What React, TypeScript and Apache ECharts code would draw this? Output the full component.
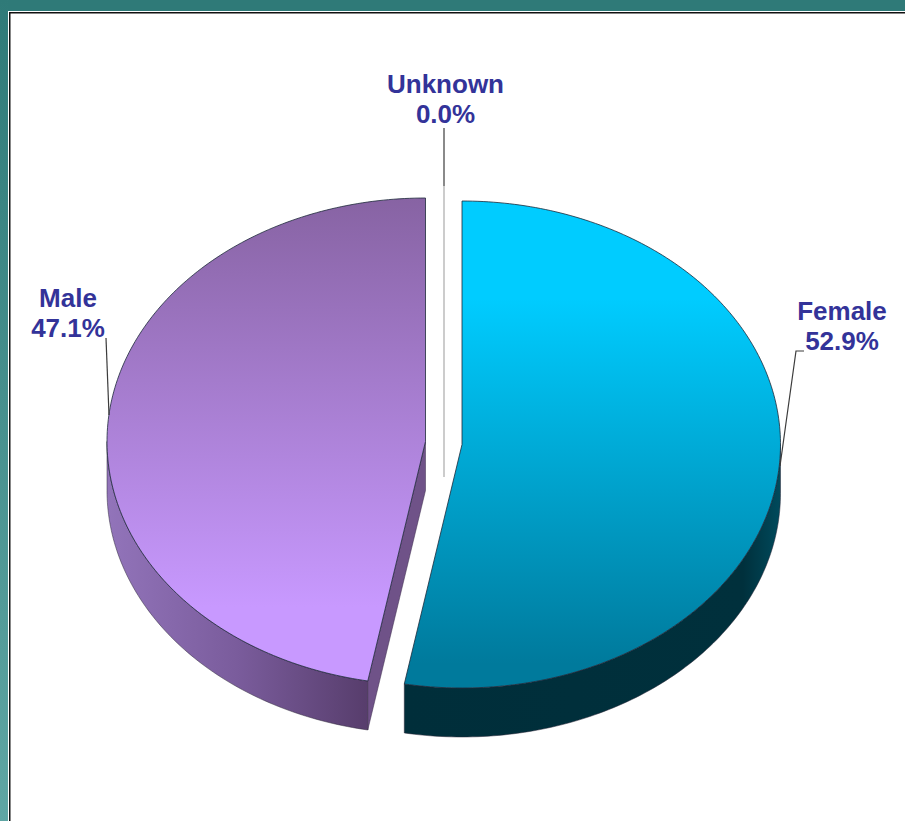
import React, { useEffect, useRef } from "react";
import * as echarts from "echarts";

const categories = ["Female", "Male", "Unknown"];
const shares = [52.9, 47.1, 0.0];
const tickLabels = ["52.9%", "47.1%", "0.0%"];

const W = 905, H = 821;
const RX = 318.5, RY = 243.5, DEPTH = 49;
const centers = [[462, 444.5], [425.5, 441.5], [444, 445]];
const topStops = [
  [[0, "#00ccff"], [0.2, "#00ccff"], [0.95, "#007a9c"], [1, "#007a9c"]],
  [[0, "#8763a3"], [0.84, "#c899ff"], [1, "#c899ff"]],
  [[0, "#cccccc"], [1, "#cccccc"]],
];
const wallStops = [
  [[0, "#002e3a"], [0.9, "#00303c"], [1, "#004a5c"]],
  [[0, "#9274ba"], [0.5, "#7a5c9c"], [1, "#573d6c"]],
];
const labelPos = [[842, 325.5], [68, 313], [445.5, 99]];
const leaders = [
  [[804, 351], [796, 351], [780, 466]],
  [[106, 338], [109, 415]],
  [[444, 128], [444, 186]],
];
const unknownStripEnd = 477;

const pt = (c: number[], a: number, dy = 0) => [c[0] + RX * Math.sin(a), c[1] - RY * Math.cos(a) + dy];
const arc = (c: number[], a0: number, a1: number, dy = 0) => {
  const out: number[][] = [];
  const n = Math.max(2, Math.ceil(Math.abs(a1 - a0) * 60));
  for (let i = 0; i <= n; i++) out.push(pt(c, a0 + ((a1 - a0) * i) / n, dy));
  return out;
};
const grad = (x0: number, y0: number, x1: number, y1: number, stops: any[]) =>
  new echarts.graphic.LinearGradient(x0, y0, x1, y1, stops.map(([offset, color]) => ({ offset, color })), true);

export default function App() {
  const ref = useRef<HTMLDivElement>(null);
  useEffect(() => {
    document.body.style.margin = "0";
    const chart = echarts.init(ref.current!, undefined, { renderer: "svg" });
    const total = shares.reduce((a, b) => a + b, 0);
    const startOf = (i: number) => (shares.slice(0, i).reduce((a, b) => a + b, 0) / total) * Math.PI * 2;
    chart.setOption({
      animation: false,
      backgroundColor: "#ffffff",
      graphic: [
        { type: "rect", shape: { x: 0, y: 0, width: W, height: 11 }, style: { fill: "#2f7a78" }, silent: true },
        {
          type: "rect", shape: { x: 0, y: 0, width: 8, height: H }, silent: true,
          style: { fill: new echarts.graphic.LinearGradient(0, 0, 0, 1, [{ offset: 0, color: "#2f7a78" }, { offset: 1, color: "#5fa6a4" }]) },
        },
        { type: "rect", shape: { x: 9, y: 12, width: W - 9, height: 1.5 }, style: { fill: "#111111" }, silent: true },
        { type: "rect", shape: { x: 9, y: 12, width: 1.5, height: H - 12 }, style: { fill: "#111111" }, silent: true },
      ],
      series: [{
        type: "custom",
        coordinateSystem: "none",
        clip: false,
        data: shares.map((v, i) => ({ name: categories[i], value: v })),
        renderItem: (params: any, api: any) => {
          const i = params.dataIndex;
          const c = centers[i];
          const a0 = startOf(i);
          const a1 = a0 + (Number(api.value(0)) / total) * Math.PI * 2;
          const children: any[] = [];
          const edge = { stroke: "#1d2a3a", lineWidth: 0.8 };
          if (shares[i] > 0) {
            // outer wall: the visible part lies between 90 and 270 degrees
            const w0 = Math.max(a0, Math.PI / 2), w1 = Math.min(a1, (3 * Math.PI) / 2);
            if (w1 > w0) {
              const front = arc(c, w0, w1);
              const back = arc(c, w1, w0, DEPTH);
              children.push({
                type: "polygon", shape: { points: [...front, ...back] },
                style: { fill: grad(Math.min(front[0][0], front[front.length - 1][0]), 0, Math.max(front[0][0], front[front.length - 1][0]), 0, wallStops[i]), stroke: "#2a2436", lineWidth: 0.5 },
              });
            }
            // cut face at the slice's start, seen only for a slice starting past the bottom
            if (a0 > Math.PI / 2 && a0 < Math.PI * 1.5) {
              const e = pt(c, a0);
              children.push({
                type: "polygon",
                shape: { points: [[c[0], c[1]], e, [e[0], e[1] + DEPTH], [c[0], c[1] + DEPTH]] },
                style: { fill: "#6f5288", stroke: "#3a2a4a", lineWidth: 0.5 },
              });
            }
            children.push({
              type: "polygon",
              shape: { points: [[c[0], c[1]], ...arc(c, a0, a1)] },
              style: { fill: grad(0, c[1] - RY, 0, c[1] + RY, topStops[i]), ...edge },
            });
          } else {
            children.push({
              type: "line", shape: { x1: c[0], y1: leaders[i][1][1], x2: c[0], y2: unknownStripEnd },
              style: { stroke: "#cccccc", lineWidth: 2 },
            });
          }
          children.push({
            type: "polyline", shape: { points: leaders[i] },
            style: { stroke: "#3c3c3c", lineWidth: 1.2, fill: "none" },
          });
          children.push({
            type: "text", x: labelPos[i][0], y: labelPos[i][1],
            style: {
              text: `${categories[i]}\n${tickLabels[i]}`, fill: "#333399", align: "center", verticalAlign: "middle",
              font: "bold 26px 'Liberation Sans', Arial, sans-serif", lineHeight: 30,
            },
          });
          return { type: "group", children };
        },
      }],
    });
    return () => chart.dispose();
  }, []);
  return <div ref={ref} style={{ width: W, height: H, position: "absolute", left: 0, top: 0 }} />;
}
